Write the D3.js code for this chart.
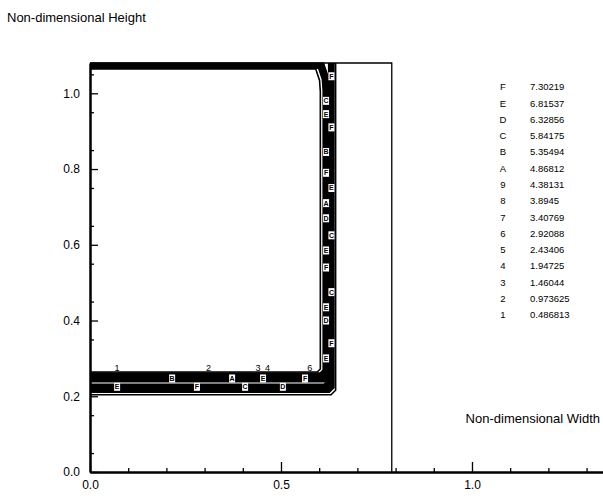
<!DOCTYPE html>
<html>
<head>
<meta charset="utf-8">
<script src="https://cdn.jsdelivr.net/npm/d3@7"></script>
<style>
  body { margin: 0; background: #fff; }
  svg { font-family: "Liberation Sans", Arial, sans-serif; }
</style>
</head>
<body>
<svg width="603" height="499"></svg>
<script>
// contour levels (legend)
var levelCodes = ['1','2','3','4','5','6','7','8','9','A','B','C','D','E','F'];
var levelValues = [0.486813, 0.973625, 1.46044, 1.94725, 2.43406, 2.92088, 3.40769,
                   3.8945, 4.38131, 4.86812, 5.35494, 5.84175, 6.32856, 6.81537, 7.30219];

// ridge of the field (L shaped) and domain limits
var ridgeY = 0.235, ridgeX = 0.624;
var wallX = 0.79, wallY = 1.08;

// distance of each level from the ridge
var aboveOff = [0.029, 0.026, 0.0235, 0.0215, 0.0195, 0.0175, 0.0155, 0.0135, 0.012, 0.0105, 0.009, 0.0075, 0.006, 0.0047, 0.0035];
var belowOff = [0.031, 0.0245, 0.022, 0.02, 0.018, 0.016, 0.014, 0.0125, 0.011, 0.0095, 0.008, 0.0067, 0.0055, 0.0045, 0.0035];
var leftOff  = [0.021, 0.0135, 0.012, 0.0108, 0.0096, 0.0085, 0.0075, 0.0065, 0.0056, 0.0047, 0.0038, 0.003, 0.0022, 0.0015, 0.0008];
var rightOff = [0.019, 0.0145, 0.013, 0.0118, 0.0106, 0.0095, 0.0084, 0.0073, 0.0062, 0.0052, 0.0042, 0.0033, 0.0024, 0.0016, 0.0009];
var topOff   = [0.016, 0.0135, 0.012, 0.0105, 0.0092, 0.008, 0.007, 0.006, 0.005, 0.0042, 0.0034, 0.0027, 0.002, 0.0014, 0.0008];

// in-line contour labels
var bottomLabelX = [0.071, 0.215, 0.28, 0.372, 0.406, 0.453, 0.505, 0.563];
var bottomLabelCode = ['E', 'B', 'F', 'A', 'C', 'E', 'D', 'F'];
var sideLabelY = [1.045, 0.98, 0.945, 0.91, 0.845, 0.79, 0.75, 0.71, 0.67, 0.625, 0.585, 0.54, 0.475, 0.435, 0.4, 0.34, 0.3];
var sideLabelCode = ['F', 'C', 'E', 'F', 'B', 'F', 'E', 'A', 'D', 'C', 'E', 'F', 'C', 'E', 'D', 'F', 'E'];
var outerLabelX = [0.071, 0.31, 0.44, 0.465, 0.575];
var outerLabelCode = ['1', '2', '3', '4', '6'];

var xTicksMajor = [0, 0.5, 1.0];
var yTicksMajor = [0, 0.2, 0.4, 0.6, 0.8, 1.0];

var svg = d3.select('svg');

var x = d3.scaleLinear().domain([0, 1.343]).range([90, 603]);
var y = d3.scaleLinear().domain([0, 1.08]).range([472, 63]);

var line = d3.line()
    .x(function(d) { return x(d[0]); })
    .y(function(d) { return y(d[1]); });

// contour paths
var inner = levelCodes.map(function(c, i) {
  var xl = ridgeX - leftOff[i], yt = wallY - topOff[i], yb = ridgeY + aboveOff[i];
  return [[0, yt], [xl - 0.012, yt], [xl - 0.002, yt - 0.03], [xl, yt - 0.06],
          [xl, yb + 0.008], [xl - 0.008, yb], [0, yb]];
});
var outer = levelCodes.map(function(c, i) {
  var xr = ridgeX + rightOff[i], yb = ridgeY - belowOff[i];
  return [[0, yb], [xr - 0.012, yb], [xr, yb + 0.012], [xr, wallY]];
});

var g = svg.append('g');
g.selectAll('path.inner')
  .data(inner)
  .enter()
  .append('path')
  .attr('class', 'inner')
  .attr('d', line)
  .attr('fill', 'none')
  .attr('stroke', '#000')
  .attr('stroke-width', 1.6);

g.selectAll('path.outer')
  .data(outer)
  .enter()
  .append('path')
  .attr('class', 'outer')
  .attr('d', line)
  .attr('fill', 'none')
  .attr('stroke', '#000')
  .attr('stroke-width', 1.6);

// labels inside the band
function boxLabel(px, py, code) {
  var l = g.append('g').attr('transform', 'translate(' + px + ',' + py + ')');
  l.append('rect').attr('x', -3).attr('y', -4).attr('width', 6).attr('height', 8)
    .attr('fill', '#fff');
  l.append('text').attr('text-anchor', 'middle').attr('dy', '0.35em')
    .attr('font-size', 7).attr('font-weight', 'bold').text(code);
}
bottomLabelX.forEach(function(v, i) {
  boxLabel(x(v), y(ridgeY + (i % 2 ? 0.012 : -0.01)), bottomLabelCode[i]);
});
sideLabelY.forEach(function(v, i) {
  boxLabel(x(ridgeX + (i % 3 == 0 ? 0.008 : -0.006)), y(v), sideLabelCode[i]);
});
outerLabelX.forEach(function(v, i) {
  g.append('text')
    .attr('x', x(v)).attr('y', y(ridgeY + aboveOff[0] + 0.004))
    .attr('font-size', 9).attr('text-anchor', 'middle')
    .text(outerLabelCode[i]);
});

// domain boundary
svg.append('path')
  .attr('d', line([[0, wallY], [wallX, wallY], [wallX, 0]]))
  .attr('fill', 'none')
  .attr('stroke', '#000')
  .attr('stroke-width', 1.3);

// axes
var yMinor = d3.axisLeft(y).tickValues(d3.range(0.05, 1.08, 0.1)).tickSizeInner(-4).tickSizeOuter(0).tickFormat('');
var yMajor = d3.axisLeft(y).tickValues(yTicksMajor).tickSizeInner(-8).tickSizeOuter(0)
    .tickPadding(10).tickFormat(d3.format('.1f'));
var xMinor = d3.axisBottom(x).tickValues([0.1, 0.2, 0.3, 0.4, 0.6, 0.7, 0.8, 0.9, 1.1, 1.2, 1.3]).tickSizeInner(-4).tickSizeOuter(0).tickFormat('');
var xMajor = d3.axisBottom(x).tickValues(xTicksMajor).tickSizeInner(-10).tickSizeOuter(0)
    .tickPadding(8).tickFormat(d3.format('.1f'));

svg.append('g').attr('transform', 'translate(' + x(0) + ',0)').call(yMinor);
svg.append('g').attr('transform', 'translate(' + x(0) + ',0)').call(yMajor);
svg.append('g').attr('transform', 'translate(0,' + y(0) + ')').call(xMinor);
svg.append('g').attr('transform', 'translate(0,' + y(0) + ')').call(xMajor);

svg.selectAll('.domain').attr('stroke-width', 2);
svg.selectAll('.tick line').attr('stroke-width', 1.3);
svg.selectAll('.tick text').attr('font-size', 12).attr('font-family', '"Liberation Sans", Arial, sans-serif').attr('fill', '#000');

// titles
svg.append('text').attr('x', 7).attr('y', 22).attr('font-size', 13).text('Non-dimensional Height');
svg.append('text').attr('x', 600).attr('y', 423).attr('font-size', 13)
  .attr('text-anchor', 'end').text('Non-dimensional Width');

// legend
var legend = svg.append('g');
var rowY = d3.scalePoint().domain(levelCodes.slice().reverse()).range([87, 315]);
levelCodes.forEach(function(c, i) {
  legend.append('text').attr('x', 503).attr('y', rowY(c)).attr('dy', '0.35em')
    .attr('font-size', 9.5).attr('text-anchor', 'middle').text(c);
  legend.append('text').attr('x', 530).attr('y', rowY(c)).attr('dy', '0.35em')
    .attr('font-size', 9.5).text(levelValues[i]);
});
</script>
</body>
</html>
